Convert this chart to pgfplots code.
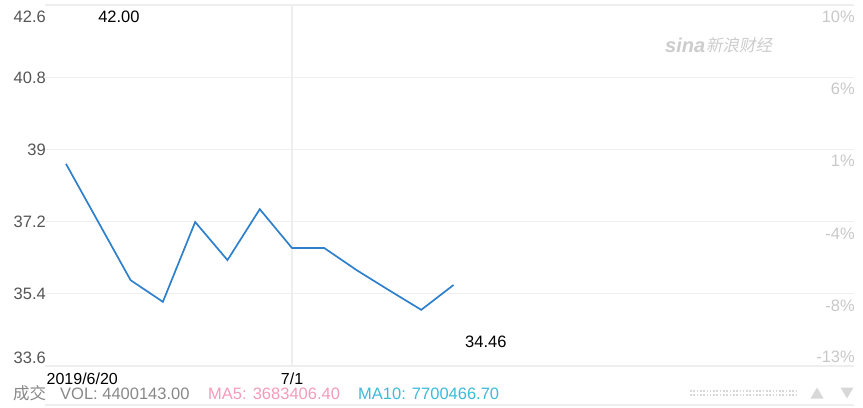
\documentclass[border=0pt]{standalone}
\usepackage{fontspec}
\setmainfont{Liberation Sans}
\newfontfamily\cjk{Noto Sans CJK SC}
\newfontfamily\cjkslant[FakeSlant=0.2]{Noto Sans CJK SC}
\usepackage{pgfplots}
\pgfplotsset{compat=1.18}
\definecolor{gridc}{HTML}{EEEEEE}
\definecolor{linec}{HTML}{2F80CC}
\definecolor{lab}{HTML}{555555}
\definecolor{rlab}{HTML}{C8C8C8}
\definecolor{volc}{HTML}{888888}
\definecolor{ma5}{HTML}{F59BB9}
\definecolor{ma10}{HTML}{3DBAD9}
\definecolor{wm}{HTML}{CCCCCC}
\definecolor{deco}{HTML}{D8D8D8}
\newcommand{\yl}[2]{\raisebox{#1}[0pt][0pt]{#2}}
\begin{document}
\begin{tikzpicture}[font=\fontsize{16.5bp}{19bp}\selectfont]
\useasboundingbox (-45bp,-42bp) rectangle (818bp,366bp);
\begin{axis}[
  at={(0,0)}, anchor=south west,
  scale only axis, width=809bp, height=361bp,
  xmin=-0.65, xmax=24.4, ymin=33.6, ymax=42.6,
  axis line style={draw=none},
  tick style={draw=none},
  ytick={33.6,35.4,37.2,39,40.8,42.6},
  yticklabels={\yl{2.5bp}{33.6},\yl{-5.9bp}{35.4},\yl{-5.9bp}{37.2},\yl{-5.9bp}{39},\yl{-5.9bp}{40.8},\yl{-17.5bp}{42.6}},
  yticklabel style={anchor=east, inner sep=0pt, xshift=1bp, text=lab},
  ymajorgrids, xmajorgrids,
  grid style={gridc, line width=1.2bp},
  xtick={7}, xticklabels={7/1},
  xticklabel style={anchor=base, inner sep=0pt, yshift=-18bp, text=black,
    font=\fontsize{16bp}{17bp}\selectfont},
  extra x ticks={-0.65}, extra x tick labels={2019/6/20},
  extra x tick style={grid=none, xticklabel style={anchor=base west, xshift=1.5bp}},
  clip=false,
]
\addplot[linec, line width=1.7bp] coordinates {
  (0,38.64) (1,37.19) (2,35.74) (3,35.20) (4,37.19) (5,36.24) (6,37.51)
  (7,36.54) (8,36.54) (9,35.99) (10,35.49) (11,35.00) (12,35.62)
};
\node[anchor=center, text=black] at (axis cs:1.64,42.3) {42.00};
\node[anchor=center, text=black] at (axis cs:13,34.2) {34.46};
\end{axis}
\begin{axis}[
  at={(0,0)}, anchor=south west,
  scale only axis, width=809bp, height=361bp,
  xmin=-0.65, xmax=24.4, ymin=33.6, ymax=42.6,
  axis line style={draw=none},
  tick style={draw=none},
  hide x axis,
  yticklabel pos=right,
  ytick={33.6,35.4,37.2,39,40.8,42.6},
  yticklabels={\yl{3.2bp}{-13\%},\yl{-17.5bp}{-8\%},\yl{-17.5bp}{-4\%},\yl{-17.5bp}{1\%},\yl{-17.5bp}{6\%},\yl{-17bp}{10\%}},
  yticklabel style={anchor=east, inner sep=0pt, xshift=1bp, text=rlab},
]
\addplot[draw=none] coordinates {(0,36)};
\end{axis}
% watermark
\node[anchor=west, inner sep=0pt, text=wm] at (620bp,321bp) {\fontsize{20bp}{21bp}\selectfont\bfseries\itshape sina};
\node[anchor=west, inner sep=0pt, text=wm] at (661bp,321bp) {\fontsize{16.5bp}{18bp}\cjkslant 新浪财经};
% bottom info row
\draw[gridc, line width=1.2bp] (0,-39bp) -- (809bp,-39bp);
\node[anchor=base west, inner sep=0pt, text=volc] at (-32bp,-33.5bp) {\cjk 成交};
\node[anchor=base west, inner sep=0pt, text=volc] at (15bp,-33.5bp) {VOL: 4400143.00};
\node[anchor=base west, inner sep=0pt, text=ma5] at (163bp,-33.5bp) {MA5: 3683406.40};
\node[anchor=base west, inner sep=0pt, text=ma10] at (313bp,-33.5bp) {MA10: 7700466.70};
\draw[deco, line width=1.4bp, dash pattern=on 1.6bp off 1.7bp] (645bp,-25bp) -- (753bp,-25bp);
\draw[deco, line width=1.4bp, dash pattern=on 1.6bp off 1.7bp] (645bp,-29bp) -- (753bp,-29bp);
\fill[deco] (765.5bp,-32.5bp) -- (778.5bp,-32.5bp) -- (772bp,-21.5bp) -- cycle;
\fill[deco] (795.5bp,-21.5bp) -- (808.5bp,-21.5bp) -- (802bp,-32.5bp) -- cycle;
\end{tikzpicture}
\end{document}
